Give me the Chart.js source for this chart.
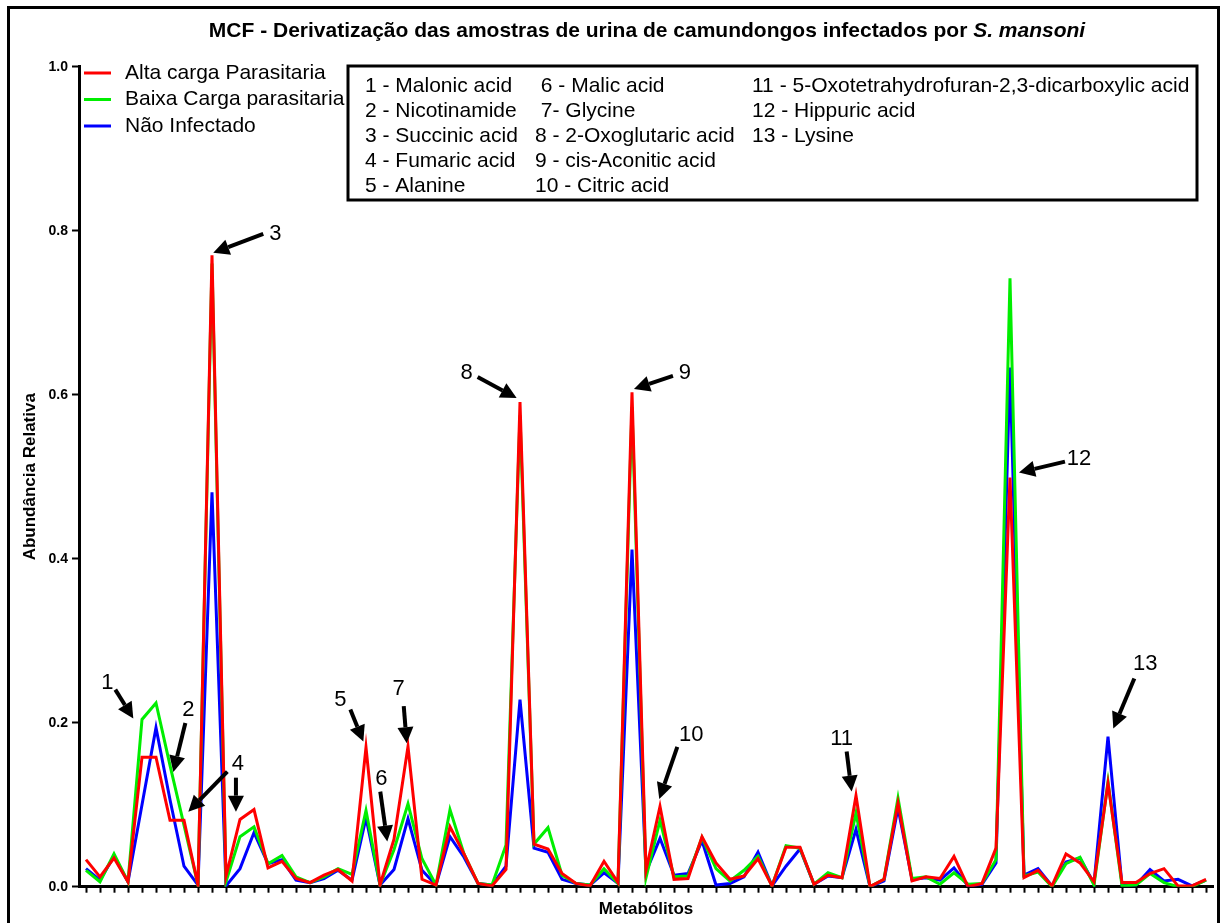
<!DOCTYPE html>
<html>
<head>
<meta charset="utf-8">
<script src="https://cdn.jsdelivr.net/npm/chart.js@4"></script>
<style>
  html, body { margin: 0; padding: 0; background: #fff; }
  #wrap { position: relative; width: 1222px; height: 923px; }
</style>
</head>
<body>
<div id="wrap"><canvas id="chartCanvas" width="1222" height="923"></canvas></div>
<script>
// metabolite positions along the x axis (no tick labels in the figure)
const categories = [
  '1','2','3','4','5','6','7','8','9','10','11','12','13','14','15','16','17','18','19','20',
  '21','22','23','24','25','26','27','28','29','30','31','32','33','34','35','36','37','38','39','40',
  '41','42','43','44','45','46','47','48','49','50','51','52','53','54','55','56','57','58','59','60',
  '61','62','63','64','65','66','67','68','69','70','71','72','73','74','75','76','77','78','79','80','81'
];

const altaCarga = [
  0.033, 0.012, 0.035, 0.006, 0.158, 0.158, 0.081, 0.081, 0.002, 0.770,
  0.013, 0.082, 0.094, 0.023, 0.031, 0.010, 0.005, 0.014, 0.021, 0.007,
  0.170, 0.002, 0.058, 0.171, 0.009, 0.002, 0.073, 0.040, 0.004, 0.001,
  0.021, 0.591, 0.052, 0.046, 0.016, 0.004, 0.001, 0.031, 0.005, 0.603,
  0.020, 0.098, 0.009, 0.010, 0.061, 0.029, 0.009, 0.013, 0.034, 0.001,
  0.048, 0.048, 0.003, 0.014, 0.011, 0.111, 0.000, 0.009, 0.102, 0.007,
  0.012, 0.010, 0.037, 0.000, 0.004, 0.047, 0.499, 0.011, 0.020, 0.001,
  0.040, 0.029, 0.006, 0.126, 0.005, 0.005, 0.016, 0.022, 0.001, 0.001, 0.009
];

const baixaCarga = [
  0.020, 0.006, 0.040, 0.006, 0.204, 0.224, 0.148, 0.075, 0.002, 0.760,
  0.006, 0.061, 0.073, 0.028, 0.038, 0.012, 0.005, 0.012, 0.022, 0.015,
  0.093, 0.002, 0.045, 0.101, 0.034, 0.002, 0.094, 0.040, 0.004, 0.002,
  0.051, 0.575, 0.052, 0.072, 0.014, 0.004, 0.002, 0.022, 0.004, 0.585,
  0.011, 0.081, 0.012, 0.013, 0.060, 0.022, 0.007, 0.020, 0.037, 0.001,
  0.050, 0.047, 0.003, 0.017, 0.011, 0.090, 0.000, 0.009, 0.108, 0.010,
  0.012, 0.003, 0.017, 0.003, 0.004, 0.033, 0.742, 0.013, 0.018, 0.000,
  0.028, 0.036, 0.002, 0.128, 0.001, 0.002, 0.016, 0.005, 0.000, 0.000, 0.008
];

const naoInfectado = [
  0.022, 0.008, 0.037, 0.006, 0.100, 0.194, 0.106, 0.025, 0.002, 0.481,
  0.001, 0.022, 0.066, 0.028, 0.033, 0.008, 0.005, 0.010, 0.020, 0.008,
  0.084, 0.002, 0.021, 0.083, 0.020, 0.002, 0.061, 0.036, 0.004, 0.002,
  0.025, 0.228, 0.047, 0.042, 0.009, 0.004, 0.002, 0.017, 0.004, 0.411,
  0.018, 0.059, 0.014, 0.016, 0.056, 0.002, 0.004, 0.012, 0.042, 0.001,
  0.025, 0.046, 0.003, 0.013, 0.011, 0.070, 0.000, 0.007, 0.096, 0.009,
  0.011, 0.008, 0.023, 0.001, 0.003, 0.029, 0.633, 0.014, 0.022, 0.001,
  0.030, 0.035, 0.004, 0.183, 0.002, 0.002, 0.021, 0.007, 0.009, 0.001, 0.008
];

const seriesNames = ['Alta carga Parasitaria', 'Baixa Carga parasitaria', 'Não Infectado'];
const seriesColors = ['#ff0000', '#00ee00', '#0000ff'];
const yTicks = [0, 0.2, 0.4, 0.6, 0.8, 1.0];

// metabolite key shown in the boxed legend
const keyColumns = [
  ['1 - Malonic acid', '2 - Nicotinamide', '3 - Succinic acid', '4 - Fumaric acid', '5 - Alanine'],
  [' 6 - Malic acid', ' 7- Glycine', '8 - 2-Oxoglutaric acid', '9 - cis-Aconitic acid', '10 - Citric acid'],
  ['11 - 5-Oxotetrahydrofuran-2,3-dicarboxylic acid', '12 - Hippuric acid', '13 - Lysine']
];

// arrows: tip at (index, value) on the chart, tail and label offset in px from the tip
const arrows = [
  { text: '1',  at: [3.38, 0.205],  tail: [-18, -29], label: [-26, -36] },
  { text: '2',  at: [6.24, 0.140],  tail: [12, -49],  label: [15, -62] },
  { text: '3',  at: [9.09, 0.773],  tail: [50, -19],  label: [62, -19] },
  { text: '',   at: [7.31, 0.0915], tail: [39, -40],  label: [0, 0] },
  { text: '4',  at: [10.71, 0.0915], tail: [0, -34], label: [2, -48] },
  { text: '5',  at: [19.81, 0.177], tail: [-13, -32], label: [-23, -42] },
  { text: '6',  at: [21.52, 0.055], tail: [-7, -50],  label: [-6, -63] },
  { text: '7',  at: [22.91, 0.175], tail: [-3, -37],  label: [-8, -54] },
  { text: '8',  at: [30.76, 0.596], tail: [-39, -21], label: [-50, -25] },
  { text: '9',  at: [39.14, 0.607], tail: [39, -13],  label: [51, -16] },
  { text: '10', at: [40.95, 0.107], tail: [18, -52],  label: [32, -64] },
  { text: '11', at: [54.69, 0.116], tail: [-5, -40],  label: [-10, -53] },
  { text: '12', at: [66.64, 0.505], tail: [46, -11],  label: [60, -14] },
  { text: '13', at: [73.38, 0.193], tail: [21, -50],  label: [32, -65] }
];

const FONT = '"Liberation Sans", Arial, sans-serif';

function drawArrow(ctx, x0, y0, x1, y1) {
  const ang = Math.atan2(y1 - y0, x1 - x0);
  const head = 16, half = 8;
  const bx = x1 - head * Math.cos(ang), by = y1 - head * Math.sin(ang);
  ctx.lineWidth = 4;
  ctx.beginPath();
  ctx.moveTo(x0, y0);
  ctx.lineTo(bx, by);
  ctx.stroke();
  ctx.beginPath();
  ctx.moveTo(x1, y1);
  ctx.lineTo(bx + half * Math.sin(ang), by - half * Math.cos(ang));
  ctx.lineTo(bx - half * Math.sin(ang), by + half * Math.cos(ang));
  ctx.closePath();
  ctx.fill();
}

const overlay = {
  id: 'overlay',
  beforeDraw(chart) {
    const ctx = chart.ctx;
    ctx.save();
    ctx.fillStyle = '#fff';
    ctx.fillRect(0, 0, chart.width, chart.height);
    ctx.restore();
  },
  afterDraw(chart) {
    const ctx = chart.ctx;
    const xs = chart.scales.x, ys = chart.scales.y;
    ctx.save();
    ctx.strokeStyle = '#000';
    ctx.fillStyle = '#000';

    // outer frame
    ctx.lineWidth = 3;
    ctx.strokeRect(8.5, 7.5, 1210, 940);

    // title, with italic species name
    const part1 = 'MCF - Derivatização das amostras de urina de camundongos infectados por ';
    const part2 = 'S. mansoni';
    ctx.textBaseline = 'middle';
    ctx.textAlign = 'left';
    ctx.font = 'bold 21px ' + FONT;
    const w1 = ctx.measureText(part1).width;
    ctx.font = 'italic bold 21px ' + FONT;
    const w2 = ctx.measureText(part2).width;
    const tx = 647 - (w1 + w2) / 2;
    ctx.font = 'bold 21px ' + FONT;
    ctx.fillText(part1, tx, 31);
    ctx.font = 'italic bold 21px ' + FONT;
    ctx.fillText(part2, tx + w1, 31);

    // series legend, top left
    ctx.font = '21px ' + FONT;
    seriesNames.forEach((name, i) => {
      const ly = 73 + i * 26.5;
      ctx.strokeStyle = seriesColors[i];
      ctx.lineWidth = 3;
      ctx.beginPath();
      ctx.moveTo(84, ly);
      ctx.lineTo(111, ly);
      ctx.stroke();
      ctx.fillStyle = '#000';
      ctx.fillText(name, 125, ly);
    });

    // metabolite key box
    ctx.strokeStyle = '#000';
    ctx.lineWidth = 3;
    ctx.strokeRect(348, 66, 849, 134);
    ctx.font = '21px ' + FONT;
    const colX = [365, 535, 752];
    keyColumns.forEach((col, c) => {
      col.forEach((txt, r) => {
        ctx.fillText(txt, colX[c], 86 + r * 25);
      });
    });

    // arrows and numbers
    ctx.font = '22px ' + FONT;
    ctx.textAlign = 'center';
    arrows.forEach(a => {
      const px = xs.getPixelForValue(a.at[0]);
      const py = ys.getPixelForValue(a.at[1]);
      drawArrow(ctx, px + a.tail[0], py + a.tail[1], px, py);
      if (a.text) ctx.fillText(a.text, px + a.label[0], py + a.label[1]);
    });
    ctx.restore();
  }
};

const ctx = document.getElementById('chartCanvas').getContext('2d');
const myChart = new Chart(ctx, {
  type: 'line',
  data: {
    labels: categories,
    datasets: [
      { label: seriesNames[0], data: altaCarga, borderColor: seriesColors[0] },
      { label: seriesNames[1], data: baixaCarga, borderColor: seriesColors[1] },
      { label: seriesNames[2], data: naoInfectado, borderColor: seriesColors[2] }
    ]
  },
  options: {
    responsive: false,
    animation: false,
    devicePixelRatio: 1,
    layout: { padding: { left: 0, right: 9, top: 66.7, bottom: 0 } },
    elements: {
      line: { borderWidth: 3, tension: 0, fill: false },
      point: { radius: 0, hoverRadius: 0 }
    },
    plugins: {
      legend: { display: false },
      title: { display: false },
      tooltip: { enabled: false }
    },
    scales: {
      x: {
        type: 'category',
        offset: true,
        grid: { display: true, drawOnChartArea: false, drawTicks: true, tickLength: 6, tickWidth: 2, tickColor: '#000' },
        border: { display: true, color: '#000', width: 3 },
        ticks: { display: false, autoSkip: false },
        title: {
          display: true,
          text: 'Metabólitos',
          color: '#000',
          font: { family: FONT, size: 17, weight: 'bold' },
          padding: { top: 0, bottom: 3 }
        },
        afterFit: s => { s.height = 36.3; }
      },
      y: {
        min: 0,
        max: 1,
        afterBuildTicks: s => { s.ticks = yTicks.map(v => ({ value: v })); },
        grid: { display: true, drawOnChartArea: false, drawTicks: true, tickLength: 7, tickWidth: 2, tickColor: '#000' },
        border: { display: true, color: '#000', width: 3 },
        ticks: {
          color: '#000',
          padding: 4,
          font: { family: FONT, size: 14, weight: 'bold' },
          callback: v => Number(v).toFixed(1)
        },
        title: {
          display: true,
          text: 'Abundância Relativa',
          color: '#000',
          font: { family: FONT, size: 17, weight: 'bold' },
          padding: { top: 20, bottom: 0 }
        },
        afterFit: s => { s.width = 79; }
      }
    }
  },
  plugins: [overlay]
});
</script>
</body>
</html>
